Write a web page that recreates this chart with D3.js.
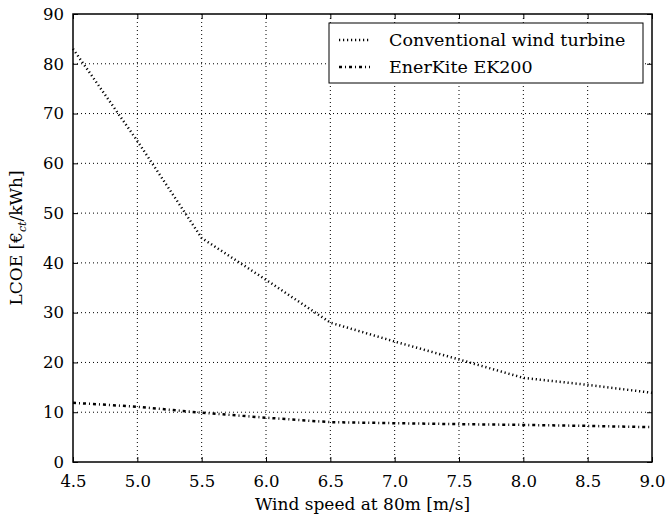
<!DOCTYPE html>
<meta charset="utf-8">
<style>
body { margin: 0; background: #fff; }
text { font-family: "DejaVu Serif", serif; fill: #000; }
.grid line { stroke: #000; stroke-width: 1; stroke-dasharray: 1,3; }
.frame { fill: none; stroke: #000; stroke-width: 1.5; }
</style>
<svg width="667" height="520"></svg>
<script src="https://d3js.org/d3.v7.min.js"></script>
<script>

var windSpeed = [4.5, 5.0, 5.5, 6.0, 6.5, 7.0, 7.5, 8.0, 8.5, 9.0];
var conventional = [83, 64.5, 45, 36.6, 28, 24.2, 20.6, 16.9, 15.5, 13.9];
var enerkite = [11.9, 11.1, 9.9, 8.9, 8.0, 7.8, 7.6, 7.45, 7.25, 7.0];
var xTicks = [4.5, 5.0, 5.5, 6.0, 6.5, 7.0, 7.5, 8.0, 8.5, 9.0];
var yTicks = [0, 10, 20, 30, 40, 50, 60, 70, 80, 90];
var seriesNames = ["Conventional wind turbine", "EnerKite EK200"];

var svg = d3.select("svg");
var pLeft = 73, pRight = 652, pTop = 14, pBottom = 462;

var x = d3.scaleLinear().domain([4.5, 9.0]).range([pLeft, pRight]);
var y = d3.scaleLinear().domain([0, 90]).range([pBottom, pTop]);

// grid
var grid = svg.append("g").attr("class", "grid");
grid.selectAll(".vx").data(xTicks.slice(1, -1)).enter().append("line")
    .attr("x1", d => x(d)).attr("x2", d => x(d))
    .attr("y1", pTop).attr("y2", pBottom);
grid.selectAll(".hy").data(yTicks.slice(1, -1)).enter().append("line")
    .attr("x1", pLeft).attr("x2", pRight)
    .attr("y1", d => y(d)).attr("y2", d => y(d));

// axes with inward ticks
function fmt(d) { return d.toFixed(1); }
svg.append("g").attr("transform", "translate(0," + pBottom + ")")
  .call(d3.axisBottom(x).tickValues(xTicks).tickSizeInner(-5).tickSizeOuter(0).tickPadding(13).tickFormat(fmt))
  .call(g => g.select(".domain").remove())
  .call(g => g.selectAll("text").attr("font-size", 16.5).attr("font-family", "DejaVu Serif"));
svg.append("g").attr("transform", "translate(0," + pTop + ")")
  .call(d3.axisTop(x).tickValues(xTicks).tickSizeInner(-5).tickSizeOuter(0).tickFormat(""))
  .call(g => g.select(".domain").remove());
svg.append("g").attr("transform", "translate(" + pLeft + ",0)")
  .call(d3.axisLeft(y).tickValues(yTicks).tickSizeInner(-5).tickSizeOuter(0).tickPadding(9))
  .call(g => g.select(".domain").remove())
  .call(g => g.selectAll("text").attr("font-size", 16.5).attr("font-family", "DejaVu Serif"));
svg.append("g").attr("transform", "translate(" + pRight + ",0)")
  .call(d3.axisRight(y).tickValues(yTicks).tickSizeInner(-5).tickSizeOuter(0).tickFormat(""))
  .call(g => g.select(".domain").remove());

svg.append("rect").attr("class", "frame")
    .attr("x", pLeft).attr("y", pTop)
    .attr("width", pRight - pLeft).attr("height", pBottom - pTop);

// lines
var line = d3.line().x(d => x(d[0])).y(d => y(d[1]));
svg.append("path")
    .datum(windSpeed.map((w, i) => [w, conventional[i]]))
    .attr("d", line).attr("fill", "none").attr("stroke", "#000")
    .attr("stroke-width", 2.5).attr("stroke-dasharray", "1.2,2.8");
svg.append("path")
    .datum(windSpeed.map((w, i) => [w, enerkite[i]]))
    .attr("d", line).attr("fill", "none").attr("stroke", "#000")
    .attr("stroke-width", 2.5).attr("stroke-dasharray", "3,3,1,3");

// legend
var lg = svg.append("g");
lg.append("rect").attr("x", 329).attr("y", 23).attr("width", 314).attr("height", 60)
    .attr("fill", "#fff").attr("stroke", "#000").attr("stroke-width", 1);
var dashes = ["1.2,2.8", "3,3,1,3"];
seriesNames.forEach(function(name, i) {
  var ly = 40 + i * 27;
  lg.append("line").attr("x1", 339).attr("x2", 370).attr("y1", ly).attr("y2", ly)
    .attr("stroke", "#000").attr("stroke-width", 2.5).attr("stroke-dasharray", dashes[i]);
  lg.append("text").attr("x", 389).attr("y", ly + 6).attr("font-size", 17.5).text(name);
});

// axis labels
svg.append("text").attr("x", (pLeft + pRight) / 2).attr("y", 510)
    .attr("text-anchor", "middle").attr("font-size", 17)
    .text("Wind speed at 80m [m/s]");
var yl = svg.append("text").attr("transform", "translate(22," + ((pTop + pBottom) / 2) + ") rotate(-90)")
    .attr("text-anchor", "middle").attr("font-size", 17);
yl.append("tspan").text("LCOE [€");
yl.append("tspan").attr("font-size", 11).attr("font-style", "italic").attr("dy", 4).text("ct");
yl.append("tspan").attr("dy", -4).text("/kWh]");

</script>
